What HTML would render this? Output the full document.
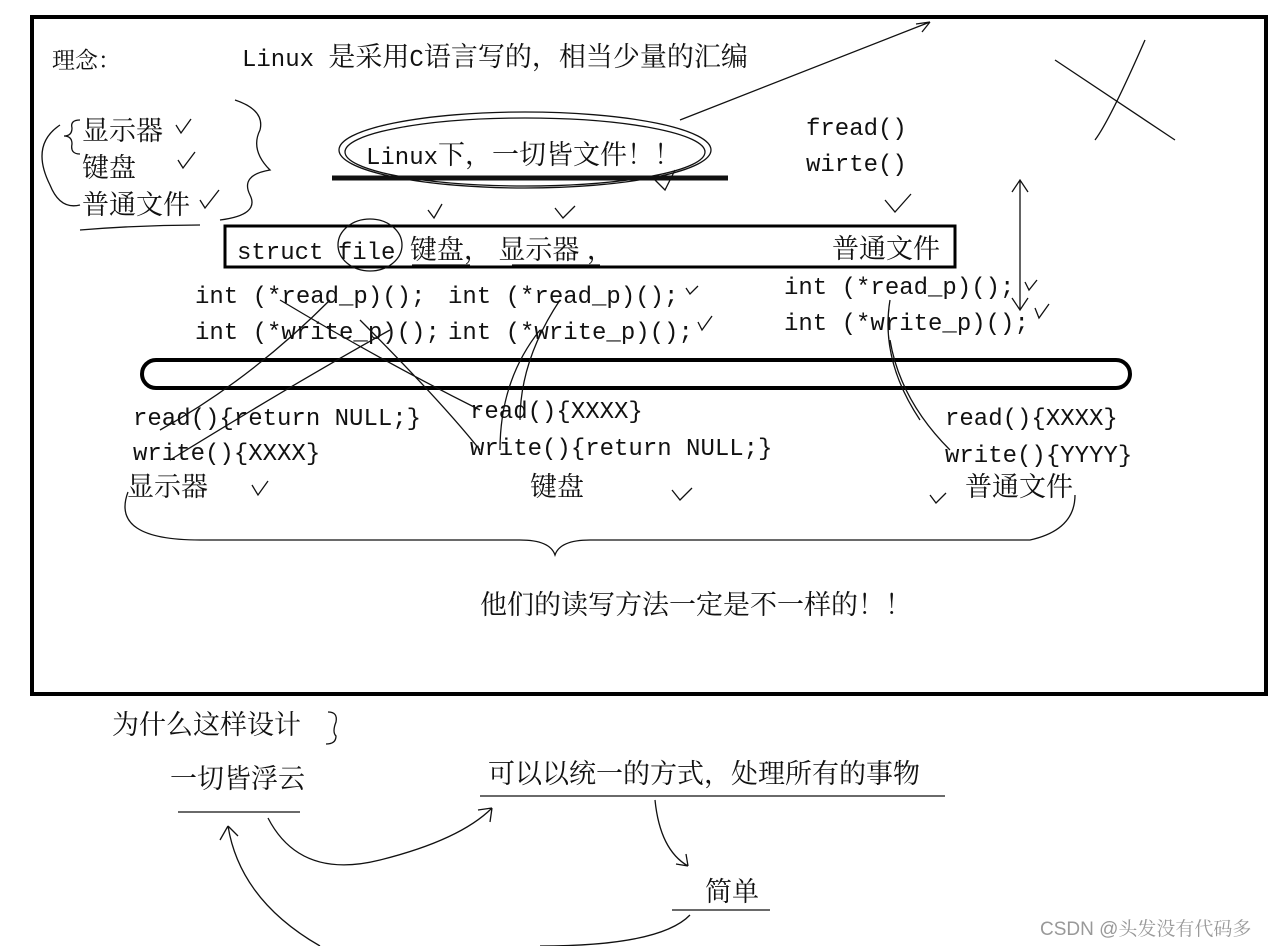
<!DOCTYPE html>
<html><head><meta charset="utf-8"><style>
html,body{margin:0;padding:0;background:#fff;}
svg{display:block}
text{font-family:"Liberation Mono","Noto Serif CJK SC","Noto Sans CJK SC",monospace;font-size:24px;fill:#111}
.c,tspan.c{font-family:"Liberation Sans","Noto Serif CJK SC","Noto Sans CJK SC",sans-serif;font-size:27px}
path,line,ellipse{fill:none;stroke:#111;stroke-width:1.3}
</style></head><body>
<svg width="1269" height="946" viewBox="0 0 1269 946" xmlns="http://www.w3.org/2000/svg">
<rect x="32" y="17" width="1234" height="677" fill="none" stroke="#000" stroke-width="4"/>
<text x="52" y="68" class="c" style="font-size:23px">理念：</text>
<text x="242" y="66">Linux <tspan class="c">是采用</tspan>C<tspan class="c">语言写的，相当少量的汇编</tspan></text>
<text x="82" y="140" class="c">显示器</text>
<text x="82" y="177" class="c">键盘</text>
<text x="82" y="214" class="c">普通文件</text>
<path d="M176 125 l5 8 l10 -14 M178 160 l5 8 l12 -16 M200 200 l5 8 l14 -18"/>
<path d="M80 120 q-10 0 -8 8 q0 8 -8 8 q8 0 8 8 q-2 10 8 10"/>
<path d="M60 125 q-30 20 -10 60 q10 25 30 20 M80 230 q60 -5 120 -5"/>
<path d="M235 100 q30 10 25 30 q-10 20 10 40 q-30 5 -20 25 q10 20 -30 25"/>
<text x="366" y="164">Linux<tspan class="c">下，一切皆文件！！</tspan></text>
<ellipse cx="525" cy="150" rx="186" ry="38"/>
<ellipse cx="525" cy="152" rx="180" ry="34"/>
<line x1="332" y1="178" x2="728" y2="178" style="stroke-width:5"/>
<path d="M680 120 L930 22 M930 22 l-14 2 M930 22 l-8 10"/>
<path d="M1055 60 L1175 140 M1145 40 Q1110 120 1095 140"/>
<text x="806" y="135">fread()</text>
<text x="806" y="171">wirte()</text>
<path d="M428 210 l6 8 l8 -14 M555 208 l8 10 l12 -12 M655 180 l10 10 l10 -20 M885 200 l10 12 l16 -18"/>
<path d="M1020 180 v130 M1012 192 l8 -12 l8 12 M1012 298 l8 12 l8 -12"/>
<rect x="225" y="226" width="730" height="41" fill="none" stroke="#000" stroke-width="3"/>
<text x="237" y="259">struct file <tspan class="c">键盘，  显示器 ，</tspan></text>
<text x="832" y="258" class="c">普通文件</text>
<ellipse cx="370" cy="245" rx="32" ry="26"/>
<line x1="412" y1="265" x2="470" y2="265"/><line x1="512" y1="265" x2="600" y2="265"/>
<text x="195" y="303">int (*read_p)();</text>
<text x="195" y="339">int (*write_p)();</text>
<text x="448" y="303">int (*read_p)();</text>
<text x="448" y="339">int (*write_p)();</text>
<text x="784" y="294">int (*read_p)();</text>
<text x="784" y="330">int (*write_p)();</text>
<path d="M686 288 l4 6 l8 -8 M698 322 l4 8 l10 -14 M1025 282 l4 8 l8 -10 M1035 308 l4 10 l10 -14"/>
<rect x="142" y="360" width="988" height="28" rx="14" fill="none" stroke="#000" stroke-width="4"/>
<path d="M330 300 Q250 380 160 430 M390 330 Q300 380 170 460 M360 320 Q440 400 480 450 M540 330 Q500 380 500 450 M560 300 Q520 360 520 420 M890 300 Q880 360 920 420 M890 340 Q900 400 950 450 M280 300 Q380 360 480 410"/>
<text x="133" y="425">read(){return NULL;}</text>
<text x="133" y="460">write(){XXXX}</text>
<text x="127" y="496" class="c">显示器</text>
<path d="M252 485 l6 10 l10 -14"/>
<text x="470" y="418">read(){XXXX}</text>
<text x="470" y="455">write(){return NULL;}</text>
<text x="530" y="496" class="c">键盘</text>
<path d="M672 490 l8 10 l12 -12"/>
<text x="945" y="425">read(){XXXX}</text>
<text x="945" y="462">write(){YYYY}</text>
<text x="965" y="496" class="c">普通文件</text>
<path d="M930 495 l6 8 l10 -10"/>
<path d="M128 492 Q110 540 200 540 L520 540 Q550 540 555 555 Q560 540 590 540 L1030 540 Q1075 530 1075 495"/>
<text x="480" y="614" class="c">他们的读写方法一定是不一样的！！</text>
<text x="112" y="734" class="c">为什么这样设计</text>
<path d="M328 712 q10 0 8 10 q-4 10 0 14 q0 8 -10 8"/>
<text x="170" y="788" class="c">一切皆浮云</text>
<line x1="178" y1="812" x2="300" y2="812"/>
<text x="488" y="783" class="c">可以以统一的方式，处理所有的事物</text>
<line x1="480" y1="796" x2="945" y2="796"/>
<path d="M268 818 Q300 880 380 860 Q460 840 492 808 M492 808 l-14 2 M492 808 l-2 14"/>
<path d="M655 800 Q660 850 688 866 M688 866 l-12 -2 M688 866 l-2 -12"/>
<text x="705" y="901" class="c">简单</text>
<line x1="672" y1="910" x2="770" y2="910"/>
<path d="M690 915 Q660 946 540 946 M320 946 Q240 900 228 826 M228 826 l-8 14 M228 826 l10 10"/>
<text x="1040" y="935" class="c" style="font-size:19px;fill:#999">CSDN @头发没有代码多</text>
</svg>
</body></html>
